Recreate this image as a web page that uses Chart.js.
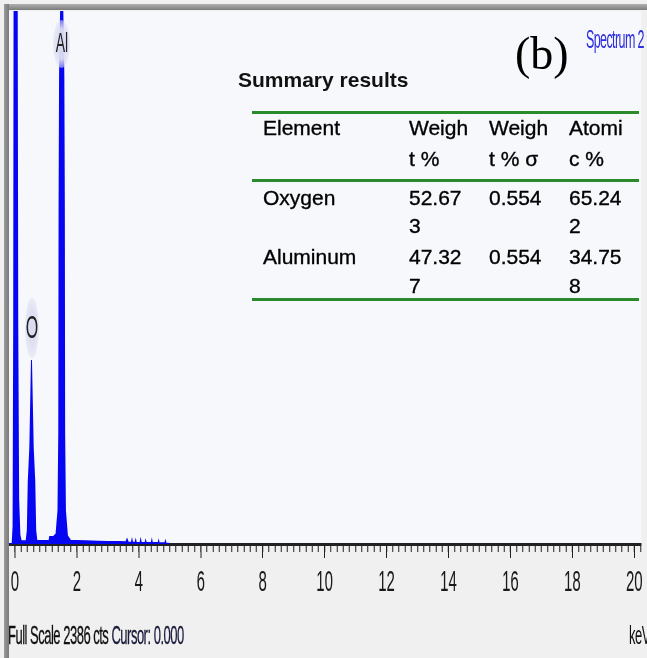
<!DOCTYPE html>
<html>
<head>
<meta charset="utf-8">
<script src="https://cdn.jsdelivr.net/npm/chart.js@4.4.1/dist/chart.umd.min.js"></script>
<style>
  html, body { margin: 0; padding: 0; }
  body { width: 647px; height: 658px; background: #f0f0f0; position: relative; overflow: hidden; font-family: 'Liberation Sans', Arial, sans-serif; }
  #wrap { position: absolute; left: 0; top: 0; width: 1294px; height: 658px; transform: scaleX(0.5); transform-origin: 0 0; }
  #c { position: absolute; left: 0; top: 0; }
  .sq { position: absolute; white-space: nowrap; font-family: 'Liberation Sans', Arial, sans-serif; }
  .halo { position: absolute; border-radius: 50%; background: radial-gradient(ellipse at center, rgba(214,216,238,1) 0%, rgba(222,224,242,0.95) 45%, rgba(240,241,250,0) 100%); }
  .frame { position: absolute; }
  .tx { position: absolute; white-space: nowrap; font-size: 21px; line-height: 30px; color: #000; -webkit-text-stroke: 0.35px #000; }
  .gl { position: absolute; left: 252px; width: 387px; background: #2b8a2b; }
</style>
</head>
<body>
<div id="wrap">
  <canvas id="c" width="1294" height="658"></canvas>
  <div class="halo" style="left:106px; top:20px; width:34px; height:48px;"></div>
  <div class="halo" style="left:50px; top:298px; width:28px; height:60px;"></div>
  <div class="sq" style="left:104px; top:25px; width:40px; text-align:center; font-size:28px; line-height:36px; color:#222;">Al</div>
  <div class="sq" style="left:44px; top:309px; width:40px; text-align:center; font-size:32px; line-height:36px; color:#222;">O</div>
  <div class="sq" style="left:1172px; top:23px; font-size:25px; line-height:32px; letter-spacing:-1.2px; color:#2c2ce0;">Spectrum 2</div>
  <div class="sq" style="left:16px; top:619px; font-size:26px; line-height:32px; letter-spacing:-1px; color:#111; -webkit-text-stroke:0.3px #111;">Full Scale 2386 cts <span style="color:#1a1a48">Cursor: 0.000</span></div>
  <div class="sq" style="left:1258px; top:619px; font-size:26px; line-height:32px; letter-spacing:-1px; color:#111;">keV</div>
</div>

<div class="frame" style="left:4px; top:4px; width:643px; height:6px; background:linear-gradient(#b0b0b0,#7c7c7c);"></div>
<div class="frame" style="left:4px; top:4px; width:5px; height:654px; background:linear-gradient(90deg,#9a9a9a,#7a7a7a);"></div>

<div style="position:absolute; left:515px; top:25px; font-family:'Liberation Serif','Times New Roman',serif; font-size:46px; line-height:58px; color:#000;">(b)</div>
<div style="position:absolute; left:238px; top:65px; font-size:21px; line-height:30px; font-weight:bold; color:#111; white-space:nowrap;">Summary results</div>

<div class="gl" style="top:111px; height:3px;"></div>
<div class="gl" style="top:179px; height:3px;"></div>
<div class="gl" style="top:298px; height:3px;"></div>

<div class="tx" style="left:263px; top:113px;">Element</div>
<div class="tx" style="left:409px; top:113px;">Weigh</div>
<div class="tx" style="left:409px; top:144px;">t %</div>
<div class="tx" style="left:489px; top:113px;">Weigh</div>
<div class="tx" style="left:489px; top:144px;">t % σ</div>
<div class="tx" style="left:569px; top:113px;">Atomi</div>
<div class="tx" style="left:569px; top:144px;">c %</div>

<div class="tx" style="left:263px; top:183px;">Oxygen</div>
<div class="tx" style="left:409px; top:183px;">52.67</div>
<div class="tx" style="left:409px; top:211px;">3</div>
<div class="tx" style="left:489px; top:183px;">0.554</div>
<div class="tx" style="left:569px; top:183px;">65.24</div>
<div class="tx" style="left:569px; top:211px;">2</div>

<div class="tx" style="left:263px; top:242px;">Aluminum</div>
<div class="tx" style="left:409px; top:242px;">47.32</div>
<div class="tx" style="left:409px; top:271px;">7</div>
<div class="tx" style="left:489px; top:242px;">0.554</div>
<div class="tx" style="left:569px; top:242px;">34.75</div>
<div class="tx" style="left:569px; top:271px;">8</div>

<script>
// Energy axis (keV) and counts
const energy = [
  -0.19, -0.09, -0.06, -0.04, -0.02, 0.06, 0.09, 0.12, 0.16, 0.20,
  0.30, 0.36, 0.40, 0.43, 0.48, 0.534, 0.59, 0.64, 0.67, 0.71,
  0.80, 0.95, 1.10, 1.12, 1.25, 1.30, 1.324, 1.39, 1.415, 1.425,
  1.441, 1.51, 1.579, 1.595, 1.605, 1.63, 1.696, 1.80, 2.00, 2.30,
  2.70, 3.00, 3.40, 3.58, 3.62, 3.66, 3.76, 3.78, 3.80, 3.88,
  3.90, 3.92, 4.04, 4.06, 4.08, 4.20, 4.22, 4.24, 4.40, 4.42,
  4.44, 4.62, 4.64, 4.66, 4.84, 4.86, 4.88, 5.00
];
const counts = [
  0, 0, 80, 1000, 3500, 3500, 1000, 200, 40, 14,
  12, 12, 60, 280, 430, 824, 430, 280, 60, 14,
  13, 13, 14, 31, 33, 40, 40, 150, 500, 1500,
  2100, 2700, 2100, 1500, 500, 150, 35, 14, 13, 12,
  10, 9, 9, 8, 22, 6, 7, 20, 6, 7,
  18, 5, 6, 20, 5, 5, 16, 5, 4, 18,
  4, 4, 15, 3, 3, 14, 2, 0
];
const tickLabels = ['0','2','4','6','8','10','12','14','16','18','20'];
const fullScale = 2386;
const xMin = -0.192, xMax = 20.224;

const bgPlugin = {
  id: 'bg',
  beforeDraw(chart) {
    const {ctx, chartArea: a} = chart;
    ctx.save();
    ctx.fillStyle = '#f7f8fc';
    ctx.fillRect(a.left, a.top, a.right - a.left, a.bottom - a.top);
    ctx.restore();
  }
};
const majorTicks = {
  id: 'majorTicks',
  afterDraw(chart) {
    const s = chart.scales.x, ctx = chart.ctx, b = chart.chartArea.bottom;
    ctx.save();
    ctx.strokeStyle = '#222';
    ctx.lineWidth = 2;
    s.ticks.forEach(t => {
      if (Math.abs(t.value - 2 * Math.round(t.value / 2)) < 1e-6) {
        const px = Math.round(s.getPixelForValue(t.value));
        ctx.beginPath();
        ctx.moveTo(px, b);
        ctx.lineTo(px, b + 14);
        ctx.stroke();
      }
    });
    ctx.restore();
  }
};

new Chart(document.getElementById('c'), {
  type: 'line',
  data: {
    datasets: [{
      data: energy.map((e, i) => ({x: e, y: counts[i]})),
      borderColor: '#0606f2',
      backgroundColor: '#0606f2',
      borderWidth: 2,
      fill: 'origin',
      pointRadius: 0,
      tension: 0
    }]
  },
  options: {
    responsive: false,
    animation: false,
    devicePixelRatio: 1,
    layout: { padding: { top: 11, left: 18, right: 0, bottom: 0 }, autoPadding: false },
    plugins: { legend: { display: false }, tooltip: { enabled: false } },
    scales: {
      x: {
        type: 'linear',
        min: xMin, max: xMax,
        position: 'bottom',
        z: 1,
        afterFit: s => { s.height = 114; },
        ticks: {
          stepSize: 0.2,
          autoSkip: false,
          includeBounds: false,
          maxRotation: 0, minRotation: 0,
          padding: 13,
          color: '#1a1a1a',
          font: { family: "'Liberation Sans', Arial, sans-serif", size: 30 },
          callback: v => (Math.abs(v - 2 * Math.round(v / 2)) < 1e-6) ? tickLabels[Math.round(v / 2)] : ''
        },
        grid: { display: true, drawOnChartArea: false, drawTicks: true, tickLength: 8, tickWidth: 2, tickColor: '#222' },
        border: { display: true, color: '#222', width: 3 }
      },
      y: { display: false, min: 0, max: fullScale }
    }
  },
  plugins: [bgPlugin, majorTicks]
});
</script>
</body>
</html>
